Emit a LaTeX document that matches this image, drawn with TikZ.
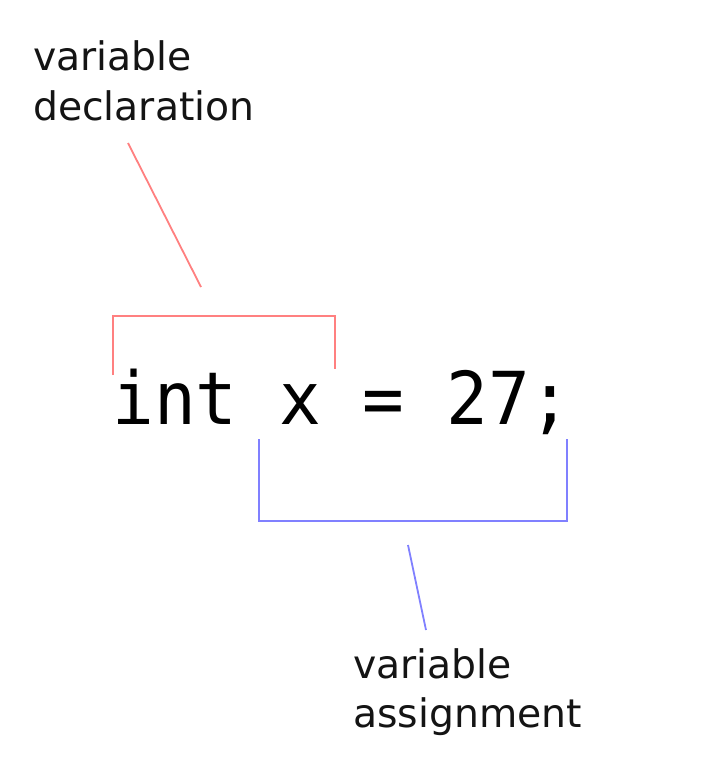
\documentclass[tikz,border=0pt]{standalone}
\usepackage{fontspec}
\setmainfont{DejaVu Sans}
\newfontfamily\codefont{DejaVu Sans Mono}
\begin{document}
\begin{tikzpicture}[x=1pt,y=-1pt,
  codetext/.style={inner sep=0pt, anchor=base west, font=\codefont\fontsize{73}{80}\selectfont},
  labeltext/.style={inner sep=0pt, anchor=base west, text={rgb,255:red,20;green,20;blue,20}, font=\fontsize{39.3}{50}\selectfont},
  declline/.style={draw={rgb,255:red,255;green,128;blue,128}, line width=1.8pt},
  assignline/.style={draw={rgb,255:red,128;green,128;blue,255}, line width=1.8pt}]
\path[use as bounding box, fill=white] (0,0) rectangle (726,774);
% code
\node[codetext] (code) at (112.2,424.5) {\scalebox{0.95}[1]{int x = 27;}};
% labels
\node[labeltext] (decl1) at (33,70) {variable};
\node[labeltext] (decl2) at (33,120) {declaration};
\node[labeltext] (assign1) at (353,678) {variable};
\node[labeltext] (assign2) at (353,727) {assignment};
% declaration bracket
\coordinate (d1) at (113,375);
\coordinate (d2) at (113,316);
\coordinate (d3) at (335,316);
\coordinate (d4) at (335,369);
\coordinate (dtop) at (128,143);
\coordinate (dbot) at (201,287);
\draw[declline] (d1) -- (d2) -- (d3) -- (d4);
\draw[declline] (dtop) -- (dbot);
% assignment bracket
\coordinate (a1) at (259,439);
\coordinate (a2) at (259,521);
\coordinate (a3) at (567,521);
\coordinate (a4) at (567,439);
\coordinate (atop) at (408,545);
\coordinate (abot) at (426,630);
\draw[assignline] (a1) -- (a2) -- (a3) -- (a4);
\draw[assignline] (atop) -- (abot);
\end{tikzpicture}
\end{document}
